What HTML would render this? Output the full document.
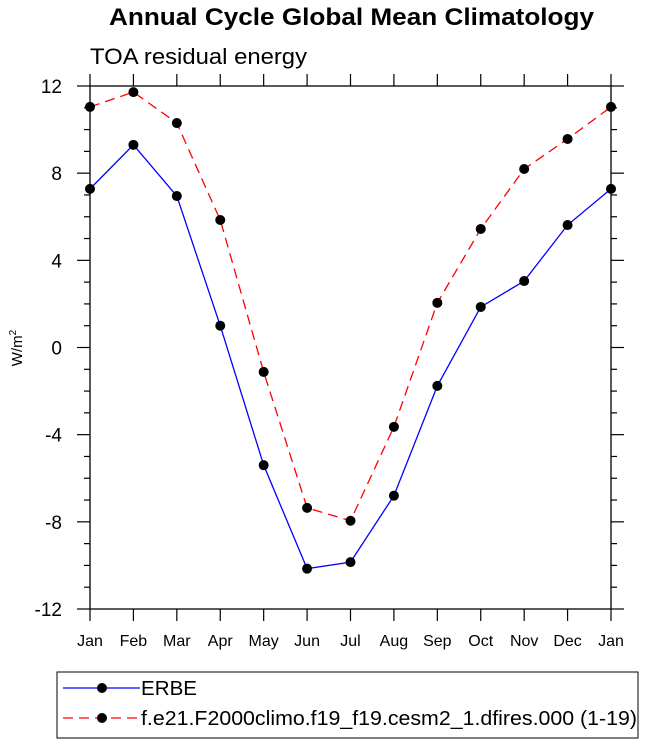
<!DOCTYPE html>
<html><head><meta charset="utf-8"><style>body{margin:0;background:#fff}svg{display:block;font-family:"Liberation Sans",sans-serif}</style></head>
<body>
<svg id="c" width="647" height="744">
<text x="109" y="25" textLength="485" lengthAdjust="spacingAndGlyphs" font-size="24" font-weight="bold">Annual Cycle Global Mean Climatology</text>
<text x="90" y="64" textLength="217" lengthAdjust="spacingAndGlyphs" font-size="22">TOA residual energy</text>
<text transform="translate(22,348) rotate(-90)" text-anchor="middle" font-size="15">W/m<tspan dy="-6" font-size="10">2</tspan></text>
<g id="ax"></g><g id="marks"></g>
<rect x="57" y="672" width="581" height="66" fill="none" stroke="#000" stroke-width="1"/>
<g>
<line x1="63" y1="688" x2="140" y2="688" stroke="#00f" stroke-width="1.3"/><circle cx="102" cy="688" r="5" fill="#000"/>
<text x="141" y="695" font-size="20" textLength="56" lengthAdjust="spacingAndGlyphs">ERBE</text></g>
<g>
<line x1="63" y1="718" x2="140" y2="718" stroke="#f00" stroke-width="1.3" stroke-dasharray="10,6"/><circle cx="102" cy="718" r="5" fill="#000"/>
<text x="141" y="725" font-size="20" textLength="496" lengthAdjust="spacingAndGlyphs">f.e21.F2000climo.f19_f19.cesm2_1.dfires.000 (1-19)</text></g>
</svg>
<script>
const months=["Jan","Feb","Mar","Apr","May","Jun","Jul","Aug","Sep","Oct","Nov","Dec","Jan"];
const erbe=[7.28,9.3,6.95,1.0,-5.4,-10.15,-9.85,-6.8,-1.76,1.86,3.05,5.62,7.28];
const model=[11.04,11.72,10.3,5.85,-1.12,-7.36,-7.95,-3.64,2.05,5.44,8.19,9.57,11.04];
const yTicks=[-12,-8,-4,0,4,8,12];
const L=90,R=611,T=86,B=609,ymin=-12,ymax=12;
const X=i=>L+i*(R-L)/12, Y=v=>B-(v-ymin)*(B-T)/(ymax-ymin);
const NS="http://www.w3.org/2000/svg";
function mk(t,a,p){const e=document.createElementNS(NS,t);for(const k in a)e.setAttribute(k,a[k]);p.appendChild(e);return e;}
const ax=document.getElementById('ax'),mg=document.getElementById('marks');
const fr=mk('rect',{x:L,y:T,width:R-L,height:B-T,fill:'none',stroke:'#000','stroke-width':1.3},ax);


for(let v=ymin;v<=ymax;v++){const maj=yTicks.includes(v),len=maj?13:6;
mk('line',{x1:L-len,x2:L,y1:Y(v),y2:Y(v),stroke:'#000','stroke-width':1.2},ax);
mk('line',{x1:R,x2:R+len,y1:Y(v),y2:Y(v),stroke:'#000','stroke-width':1.2},ax);}
yTicks.forEach(v=>{const t=mk('text',{x:62,y:Y(v)+7,'text-anchor':'end','font-size':19},ax);t.textContent=v;

});
months.forEach((m,i)=>{mk('line',{x1:X(i),x2:X(i),y1:T-12,y2:T,stroke:'#000','stroke-width':1.2},ax);
mk('line',{x1:X(i),x2:X(i),y1:B,y2:B+12,stroke:'#000','stroke-width':1.2},ax);
const t=mk('text',{x:X(i),y:646,'text-anchor':'middle','font-size':16},ax);t.textContent=m;

});
function series(d,col,dash,name){const p=mk('polyline',{points:d.map((v,i)=>X(i)+','+Y(v)).join(' '),fill:'none',stroke:col,'stroke-width':1.3,'stroke-dasharray':dash},mg);


d.forEach((v,i)=>{const c=mk('circle',{cx:X(i),cy:Y(v),r:5,fill:'#000'},mg);

});}
series(model,'#f00','10,6','model');
series(erbe,'#00f','none','erbe');
</script>
</body></html>
